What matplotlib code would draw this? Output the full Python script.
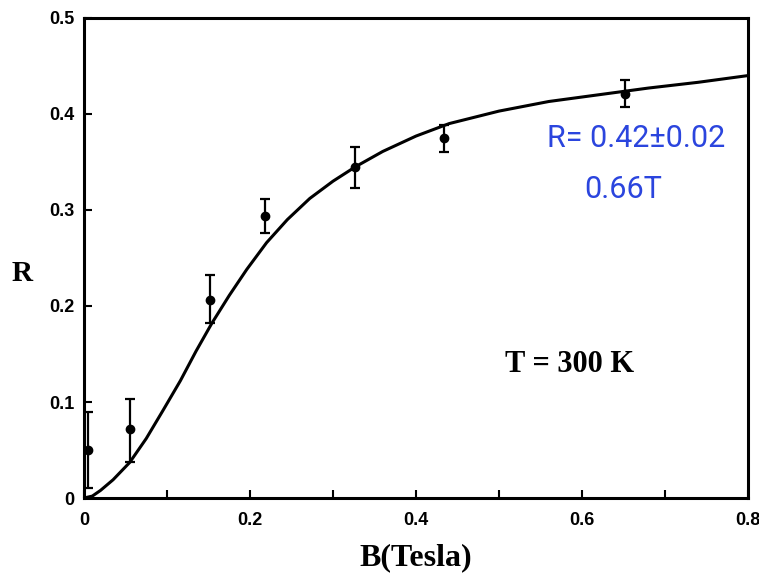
import numpy as np
import matplotlib
matplotlib.use("Agg")
import matplotlib.pyplot as plt


# measured points, R vs B at T = 300 K
b_data = [0.005, 0.055, 0.152, 0.218, 0.327, 0.434, 0.652]
r_data = [0.050, 0.072, 0.206, 0.294, 0.345, 0.375, 0.421]
r_lo = [0.010, 0.037, 0.182, 0.276, 0.323, 0.360, 0.407]
r_hi = [0.090, 0.103, 0.232, 0.311, 0.366, 0.389, 0.435]

# fitted curve
b_fit = [0.0, 0.01, 0.02, 0.035, 0.055, 0.075, 0.095, 0.116, 0.135, 0.154,
         0.175, 0.196, 0.22, 0.245, 0.272, 0.30, 0.327, 0.36, 0.40, 0.44,
         0.50, 0.56, 0.62, 0.68, 0.74, 0.80]
r_fit = [0.0, 0.002, 0.008, 0.019, 0.037, 0.062, 0.091, 0.122, 0.153, 0.182,
         0.211, 0.238, 0.266, 0.290, 0.312, 0.330, 0.345, 0.361, 0.377, 0.390,
         0.403, 0.413, 0.420, 0.427, 0.433, 0.440]

x_ticks = [0, 0.2, 0.4, 0.6, 0.8]
x_labels = ["0", "0.2", "0.4", "0.6", "0.8"]
y_ticks = [0, 0.1, 0.2, 0.3, 0.4, 0.5]
y_labels = ["0", "0.1", "0.2", "0.3", "0.4", "0.5"]

r_data = np.array(r_data)
yerr = [r_data - np.array(r_lo), np.array(r_hi) - r_data]

fig = plt.figure(figsize=(7.59, 5.76), dpi=100)
ax = fig.add_axes([0.1107, 0.1354, 0.8748, 0.8334])

ax.plot(b_fit, r_fit, color="black", lw=2.2, solid_joinstyle="round")
ax.errorbar(b_data, r_data, yerr=yerr, fmt="o", color="black", ms=6,
            elinewidth=1.6, capsize=3.5, capthick=1.6)

ax.set_xlim(0, 0.8)
ax.set_ylim(0, 0.5)
ax.set_xticks(x_ticks)
ax.set_xticklabels(x_labels)
ax.set_xticks([0.1, 0.3, 0.5, 0.7], minor=True)
ax.set_yticks(y_ticks)
ax.set_yticklabels(y_labels)

ax.tick_params(which="both", direction="in", width=1.5, length=6,
               top=False, right=False)
ax.tick_params(axis="x", pad=10)
ax.tick_params(axis="y", pad=7)
for lab in ax.get_xticklabels() + ax.get_yticklabels():
    lab.set_fontfamily("Liberation Sans")
    lab.set_fontweight("bold")
    lab.set_fontsize(13)

for s in ax.spines.values():
    s.set_linewidth(2.2)

ax.set_xlabel("B(Tesla)", fontfamily="Liberation Serif", fontweight="bold",
              fontsize=23, va="center")
ax.xaxis.set_label_coords(0.50, -0.124)
ax.set_ylabel("R", fontfamily="Liberation Serif", fontweight="bold",
              fontsize=21, rotation=0, va="center", ha="center")
ax.yaxis.set_label_coords(-0.093, 0.467)

ax.text(0.5855, 0.139, "T = 300 K", fontfamily="Liberation Serif",
        fontweight="bold", fontsize=22, ha="center", va="center")

blue = "#2b45de"
hand = ["Liberation Sans Narrow", "Roboto", "DejaVu Sans"]
ax.text(0.665, 0.374, "R= 0.42±0.02", color=blue, fontsize=22,
        family=hand, ha="center", va="center")
ax.text(0.650, 0.321, "0.66T", color=blue, fontsize=22,
        family=hand, ha="center", va="center")

fig.savefig("out.png", dpi=100)
